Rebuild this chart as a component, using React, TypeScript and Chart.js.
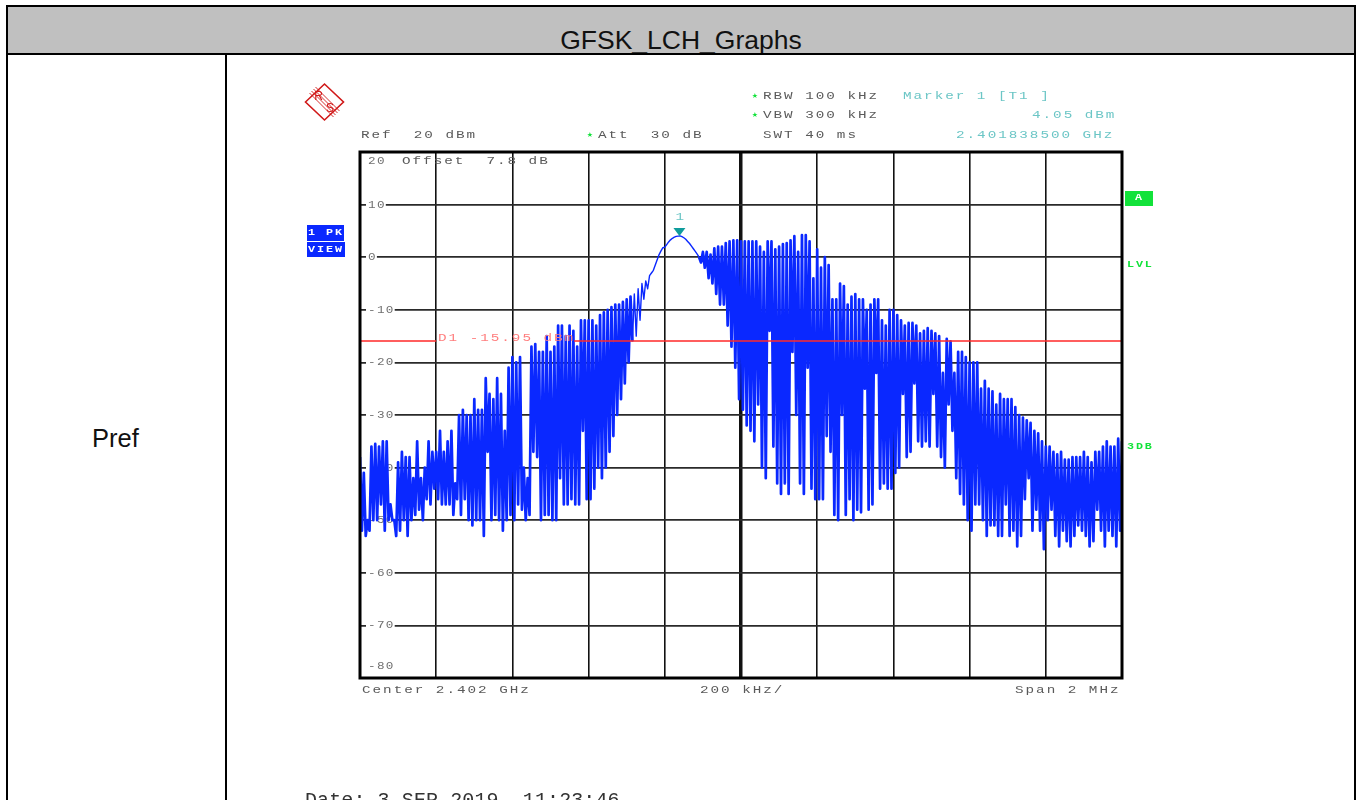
import React, { useEffect, useRef } from "react";
import { Chart, registerables } from "chart.js";

Chart.register(...registerables);

// Sweep levels in dBm, one list per 200 kHz division of the 2 MHz span.
const div1 = [-38,-52,-41,-53,-50,-52,-36,-50,-35.5,-50,-36,-47,-35,-52,-35,-50,-47,-50,-50,-53,-39,-52,-37,-50,-38,-53,-38,-50,-42,-49,-35,-48,-42,-50,-40,-46,-35,-47,-37,-44];
const div2 = [-37,-46,-33,-47,-37,-47,-35,-47,-33,-49,-43,-46,-30,-49,-29,-46,-30,-50,-30,-51,-27,-50,-29,-50,-29,-53,-23,-37,-26,-50,-27,-49,-23,-50,-26,-52,-33,-50,-21,-49];
const div3 = [-19,-50,-20,-47,-19,-48,-40,-50,-42,-49,-17,-37,-16.5,-38,-18,-50,-18,-49,-15,-49,-18,-50,-17,-50,-13,-42,-13,-47,-15,-47,-13,-46,-14,-47,-17,-47,-12,-33,-12,-46];
const div4 = [-12,-46,-12,-44,-13,-40,-11,-42,-10.5,-40,-10,-37,-9.5,-34,-9,-30,-9,-27,-8.5,-24,-8,-20,-7.5,-16,-7,-15,-6,-12,-5,-8,-4.5,-6,-3.5,-3,-2.5,-1.5,-0.5,0.5,1.2,1.8];
const div5 = [1.9,2.4,2.9,3.3,3.6,3.8,3.95,4,4.05,3.9,3.7,3.4,3,2.6,2.1,1.6,1.1,0.6,0,-1,1,-2,1,-4,0.5,-5,1.7,-7,2,-9,2,-9,2.7,-13,3,-17,3.2,-21,3.2,-27];
const div6 = [3,-29,3,-32,3,-33,3,-35,3,-28,2,-40,1,-42,3,-14,3,-36,1.5,-43,2,-45,2.5,-43,2.7,-45,3.2,-18,4,-30,1,-43,4.2,-45,4.2,-21,3,-44,-4,-46];
const div7 = [1.5,-46,-2,-46,0,-34,-1.5,-37,-8,-49,-8,-50,-5,-30,-5.5,-49,-9,-46,-7.5,-50,-7,-48,-8,-48.5,-8,-25,-10,-48,-9,-47,-8,-22,-8,-44,-12,-43,-13,-44,-10,-44];
const div8 = [-10,-41,-11,-40,-12,-26,-13,-38,-12.5,-37,-12.5,-24,-13,-35,-14.5,-36,-14,-35,-13.5,-36,-14,-26,-14.5,-36,-15,-38,-22,-40,-15.5,-28,-16,-33,-22,-42,-18,-45,-18,-47,-19,-50];
const div9 = [-20,-52,-20,-47,-20,-47,-25,-50,-23.5,-53,-25,-51,-25.5,-51,-28,-53,-26,-53,-27,-47,-27,-53,-27,-52,-28.5,-55,-30,-53,-30.5,-46,-31,-42,-31.5,-52,-33,-48,-33.5,-52,-35,-55.5];
const div10 = [-36,-50,-36,-48,-37,-53,-37.5,-55,-37,-52,-38.5,-54,-38.5,-55,-38,-53,-38,-51,-38,-52,-37,-53,-38,-55,-39,-54,-37,-48,-37,-52,-36,-55,-35,-52,-36,-53,-36,-55,-34.5,-52,-35];
const divisions = [div1, div2, div3, div4, div5, div6, div7, div8, div9, div10];

const spanStartKHz = -1000;
const divisionKHz = 200;
const levelTicks = [20, 10, 0, -10, -20, -30, -40, -50, -60, -70, -80];
const displayLine = -15.95;
const markerOffsetKHz = -161.5;
const markerLevel = 4.05;
const smoothBandKHz = [-290, -108];

const trace = divisions.flatMap((levels, d) =>
  levels.map((y, j) => ({ x: spanStartKHz + divisionKHz * (d + j / (d === 9 ? levels.length - 1 : levels.length)), y }))
);

const GRAY = "#5a5a5a";
const TEAL = "#6cc6c6";
const GREEN = "#12e23a";

const headerTexts: [string, number, number, string][] = [
  ["RBW 100 kHz", 763, 96, GRAY],
  ["Marker 1 [T1 ]", 903, 96, TEAL],
  ["VBW 300 kHz", 763, 115, GRAY],
  ["4.05 dBm", 1032, 115, TEAL],
  ["Ref  20 dBm", 361, 135, GRAY],
  ["Att  30 dB", 598, 135, GRAY],
  ["SWT 40 ms", 763, 135, GRAY],
  ["2.401838500 GHz", 956, 135, TEAL],
  ["Offset  7.8 dB", 402, 161, GRAY],
  ["Center 2.402 GHz", 362, 690, GRAY],
  ["200 kHz/", 700, 690, GRAY],
  ["Span 2 MHz", 1015, 690, GRAY],
];
const sideTexts: [string, number, number][] = [
  ["LVL", 1127, 265],
  ["3DB", 1127, 447],
];

function spaced(ctx: CanvasRenderingContext2D, s: string, x: number, y: number, color: string, adv = 10.55, size = 11, sx = 1.3, weight = "normal") {
  ctx.save();
  ctx.translate(x, y);
  ctx.scale(sx, 1);
  ctx.font = `${weight} ${size}px "Liberation Mono"`;
  (ctx as any).letterSpacing = `${adv / sx - size * 0.6}px`;
  ctx.textBaseline = "middle";
  ctx.textAlign = "left";
  ctx.fillStyle = color;
  ctx.fillText(s, 0, 0);
  ctx.restore();
}

const levelLabels = {
  id: "levelLabels",
  beforeDatasetsDraw(chart: any) {
    const ctx = chart.ctx;
    const yS = chart.scales.y;
    levelTicks.forEach((v) => {
      const s = String(v);
      const shift = v === 20 ? 9 : v === -80 ? -12 : 0;
      const y = yS.getPixelForValue(v) + shift;
      const w = s.length * 8.9;
      ctx.fillStyle = "#fff";
      if (!shift) ctx.fillRect(366, y - 3, w + 2, 6);
      spaced(ctx, s, 368, y, "#707070", 8.9, 11, 1.15);
    });
  },
};

const annotations = {
  id: "annotations",
  afterDraw(chart: any) {
    const ctx = chart.ctx;
    const { left, right, top, bottom } = chart.chartArea;
    const xS = chart.scales.x;
    const yS = chart.scales.y;

    // frame
    ctx.strokeStyle = "#000";
    ctx.lineWidth = 3;
    ctx.strokeRect(left, top, right - left, bottom - top);

    // display line label
    spaced(ctx, "D1 -15.95 dBm", 438, yS.getPixelForValue(displayLine) - 3, "#ff7d7d");

    // marker
    const mx = xS.getPixelForValue(markerOffsetKHz);
    const my = yS.getPixelForValue(markerLevel);
    ctx.fillStyle = "#0f9c9c";
    ctx.beginPath();
    ctx.moveTo(mx - 6, my - 8);
    ctx.lineTo(mx + 6, my - 8);
    ctx.lineTo(mx, my);
    ctx.closePath();
    ctx.fill();
    spaced(ctx, "1", mx - 4, my - 19, TEAL);

    headerTexts.forEach(([s, x, y, c]) => spaced(ctx, s, x, y, c));
    sideTexts.forEach(([s, x, y]) => spaced(ctx, s, x, y, GREEN, 8.9, 9, 1.3, "bold"));

    // stars
    [[590, 135], [755, 96], [755, 115]].forEach(([x, y]) => {
      ctx.font = '7px "DejaVu Sans"';
      ctx.fillStyle = GREEN;
      ctx.textAlign = "center";
      ctx.textBaseline = "middle";
      ctx.fillText("★", x, y);
    });

    // trace badges
    ctx.fillStyle = "#0a28ff";
    ctx.fillRect(307, 225, 37, 16);
    ctx.fillRect(307, 242, 38, 15);
    spaced(ctx, "1 PK", 308, 233, "#fff", 9, 9, 1.3, "bold");
    spaced(ctx, "VIEW", 308, 250, "#fff", 9, 9, 1.3, "bold");
    ctx.fillStyle = GREEN;
    ctx.fillRect(1125, 191, 28, 15);
    spaced(ctx, "A", 1135, 198, "#fff", 9, 9, 1.3, "bold");

    // logo
    ctx.save();
    ctx.translate(324.5, 102);
    ctx.strokeStyle = "#d01818";
    ctx.fillStyle = "#d01818";
    ctx.lineWidth = 1.6;
    ctx.beginPath();
    ctx.moveTo(-19, 0); ctx.lineTo(0, -18); ctx.lineTo(19, 0); ctx.lineTo(0, 18); ctx.closePath();
    ctx.stroke();
    ctx.lineWidth = 0.9;
    [-3, -1, 1, 3].forEach((o) => {
      ctx.beginPath();
      ctx.moveTo(-12 + o, -12 - o);
      ctx.lineTo(12 + o, 12 - o);
      ctx.stroke();
    });
    ctx.font = '12px "Liberation Sans"';
    ctx.textAlign = "center";
    ctx.textBaseline = "middle";
    ctx.fillText("R", -6, -5.5);
    ctx.fillText("S", 5.5, 6.5);
    ctx.restore();

    // capture date, cut by the page edge
    ctx.font = '20px "Liberation Mono"';
    ctx.fillStyle = "#333";
    ctx.textAlign = "left";
    ctx.textBaseline = "alphabetic";
    (ctx as any).letterSpacing = "0.1px";
    ctx.fillText("Date: 3 SEP 2019  11:23:46", 305, 806);
    (ctx as any).letterSpacing = "0px";
  },
};

const lineStyle: React.CSSProperties = { position: "absolute", background: "#000" };

export default function App() {
  const ref = useRef<HTMLCanvasElement>(null);
  useEffect(() => {
    const chart = new Chart(ref.current!, {
      type: "line",
      data: {
        datasets: [
          {
            label: "D1",
            data: [
              { x: spanStartKHz, y: displayLine },
              { x: -800, y: displayLine },
              { x: -790, y: null },
              { x: -438, y: displayLine },
              { x: 1000, y: displayLine },
            ],
            borderColor: "#ff2a2a",
            borderWidth: 1.5,
            pointRadius: 0,
            spanGaps: false,
          },
          {
            label: "Trace 1",
            data: trace,
            borderColor: "#0a28ff",
            borderWidth: 2.7,
            pointRadius: 0,
            tension: 0,
            borderJoinStyle: "round",
            segment: {
              borderWidth: (c: any) => (c.p0.parsed.x > smoothBandKHz[0] && c.p1.parsed.x < smoothBandKHz[1] ? 1.4 : undefined),
            },
          },
        ],
      },
      options: {
        animation: false,
        responsive: false,
        events: [],
        layout: { padding: { left: 360, top: 152, right: 237, bottom: 122 } },
        plugins: { legend: { display: false }, tooltip: { enabled: false }, title: { display: false } },
        scales: {
          x: {
            type: "linear",
            min: -1000,
            max: 1000,
            ticks: { display: false, stepSize: 200 },
            border: { display: false },
            grid: {
              drawTicks: false,
              color: "#111",
              lineWidth: (c: any) => (c.tick && c.tick.value === 0 ? 3.5 : 1.6),
            },
          },
          y: {
            min: -80,
            max: 20,
            ticks: { display: false, stepSize: 10 },
            border: { display: false },
            grid: { drawTicks: false, color: "#2a2a2a", lineWidth: 1.8 },
          },
        },
      },
      plugins: [levelLabels, annotations],
    } as any);
    return () => chart.destroy();
  }, []);

  return (
    <div style={{ position: "fixed", inset: 0, overflow: "hidden", background: "#fff", fontFamily: '"Liberation Sans", Arial, sans-serif' }}>
      <div style={{ position: "absolute", left: 8, top: 7, width: 1346, height: 46, overflow: "hidden", background: "#c0c0c0", textAlign: "center", fontSize: 26.5, lineHeight: "66px", color: "#111" }}>
        GFSK_LCH_Graphs
      </div>
      <div style={{ ...lineStyle, left: 6, top: 5, width: 1350, height: 2 }} />
      <div style={{ ...lineStyle, left: 6, top: 53, width: 1350, height: 2 }} />
      <div style={{ ...lineStyle, left: 6, top: 5, width: 2, height: 795 }} />
      <div style={{ ...lineStyle, left: 225, top: 54, width: 2, height: 746 }} />
      <div style={{ ...lineStyle, left: 1354, top: 5, width: 2, height: 795 }} />
      <div style={{ position: "absolute", left: 92, top: 423, fontSize: 25.5, lineHeight: "30px", color: "#111" }}>Pref</div>
      <canvas ref={ref} width={1359} height={800} style={{ position: "absolute", left: 0, top: 0, width: 1359, height: 800 }} />
    </div>
  );
}
